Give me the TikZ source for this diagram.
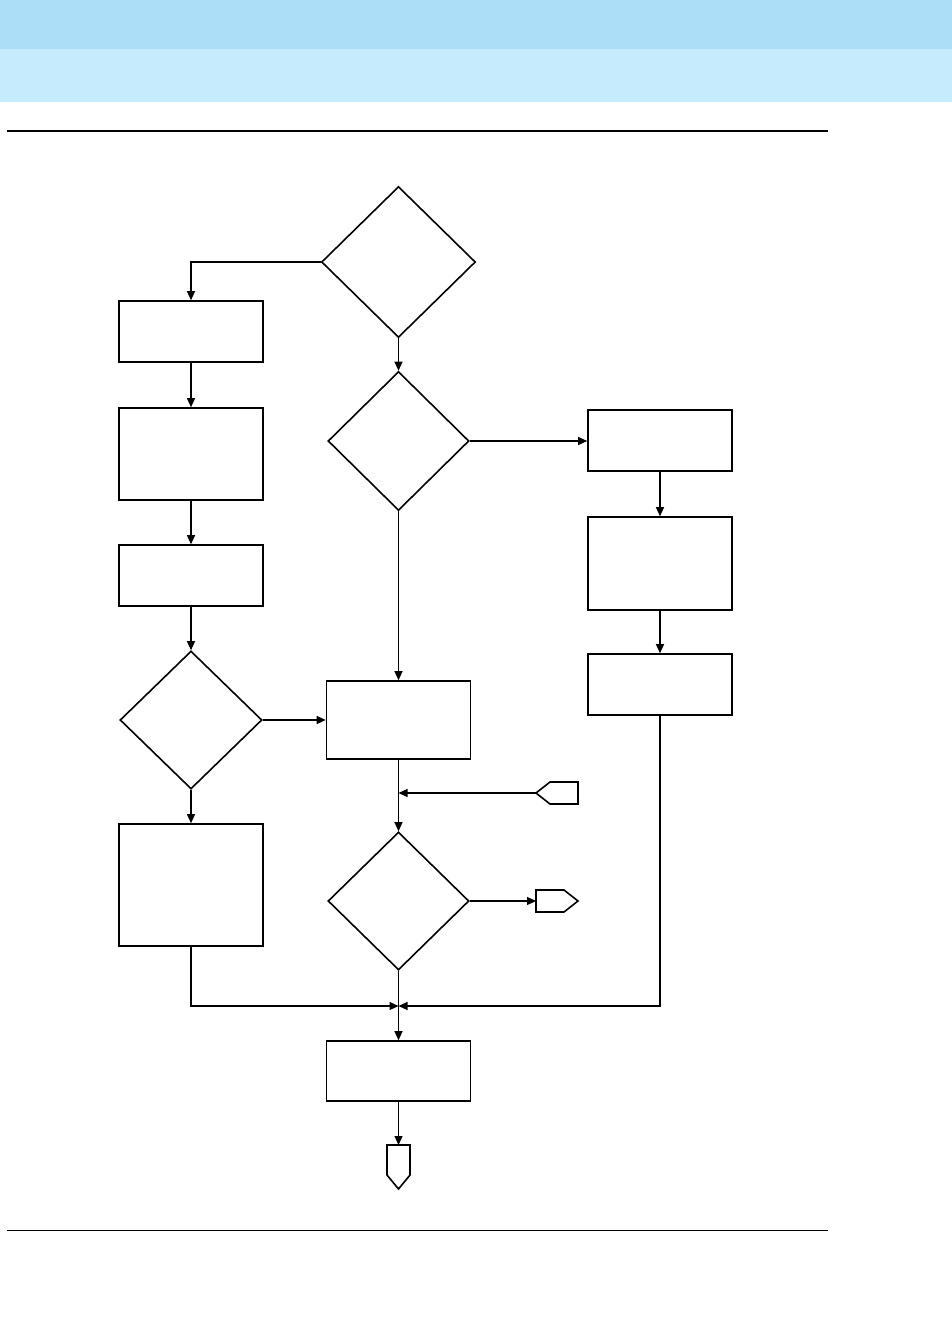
\documentclass[tikz,border=0pt]{standalone}
\usetikzlibrary{shapes.geometric,arrows.meta}
\definecolor{bandA}{HTML}{ACDFF7}
\definecolor{bandB}{HTML}{C5EBFD}
\tikzset{
  box/.style={draw,line width=1.6pt,rectangle,inner sep=0pt,minimum width=144pt},
  dec/.style={draw,line width=1.6pt,diamond,inner sep=0pt,aspect=1},
  off/.style={draw,line width=1.6pt,line join=miter},
  conn/.style={line width=1.1pt,-{Triangle[length=9pt,width=8pt]}},
  plain/.style={line width=1.1pt}
}
\begin{document}
\begin{tikzpicture}[x=1pt,y=-1pt]
\useasboundingbox (0,0) rectangle (952,1326);
\fill[bandA] (0,0) rectangle (952,49);
\fill[bandB] (0,49) rectangle (952,102);
\draw[line width=2.5pt] (7,131) -- (828,131);
\draw[line width=0.9pt] (7,1230) -- (828,1230);

% left column
\node[dec,minimum width=154pt,minimum height=151pt] (d1) at (398.5,262) {};
\node[box,minimum height=61pt] (b1) at (191,331.5) {};
\node[box,minimum height=92pt] (b2) at (191,454) {};
\node[box,minimum height=61pt] (b3) at (191,575.5) {};
\node[dec,minimum width=142pt,minimum height=138pt] (d4) at (191,720) {};
\node[box,minimum height=122pt] (b5) at (191,885) {};
% middle column
\node[dec,minimum width=141pt,minimum height=139pt] (d2) at (398.5,441) {};
\node[box,minimum height=78pt] (c1) at (398.5,720) {};
\node[dec,minimum width=141pt,minimum height=138pt] (d3) at (398.5,901) {};
\node[box,minimum height=60pt] (b6) at (398.5,1071) {};
% right column
\node[box,minimum height=61pt] (r1) at (660,440.5) {};
\node[box,minimum height=93pt] (r2) at (660,563.5) {};
\node[box,minimum height=61pt] (r3) at (660,684.5) {};
% off-page connectors
\coordinate (o1) at (536,793);
\draw[off] (o1) -- (550,782) -- (578,782) -- (578,804) -- (550,804) -- cycle;
\coordinate (o2) at (536,901);
\draw[off] (o2) |- (564,890) -- (578,901) -- (564,912) -| cycle;
\coordinate (o3) at (398.5,1145);
\draw[off] (387,1145) -- (410,1145) -- (410,1175) -- (398.5,1189) -- (387,1175) -- cycle;

\coordinate (j) at (398.5,1006);

\draw[conn] (d1.west) -| (b1.north);
\draw[conn] (d1.south) -- (d2.north);
\draw[conn] (b1) -- (b2);
\draw[conn] (b2) -- (b3);
\draw[conn] (b3) -- (d4.north);
\draw[conn] (d4.south) -- (b5.north);
\draw[conn] (d4.east) -- (c1.west);
\draw[conn] (d2.east) -- (r1.west |- d2.east);
\draw[conn] (d2.south) -- (c1.north);
\draw[conn] (r1) -- (r2);
\draw[conn] (r2) -- (r3);
\draw[conn] (c1.south) -- (d3.north);
\draw[conn] (o1) -- (c1.south |- o1);
\draw[conn] (d3.east) -- (o2);
\draw[conn] (b5.south) |- (j);
\draw[conn] (r3.south) |- (j);
\draw[conn] (d3.south) -- (b6.north);
\draw[conn] (b6.south) -- (o3);
\end{tikzpicture}
\end{document}
